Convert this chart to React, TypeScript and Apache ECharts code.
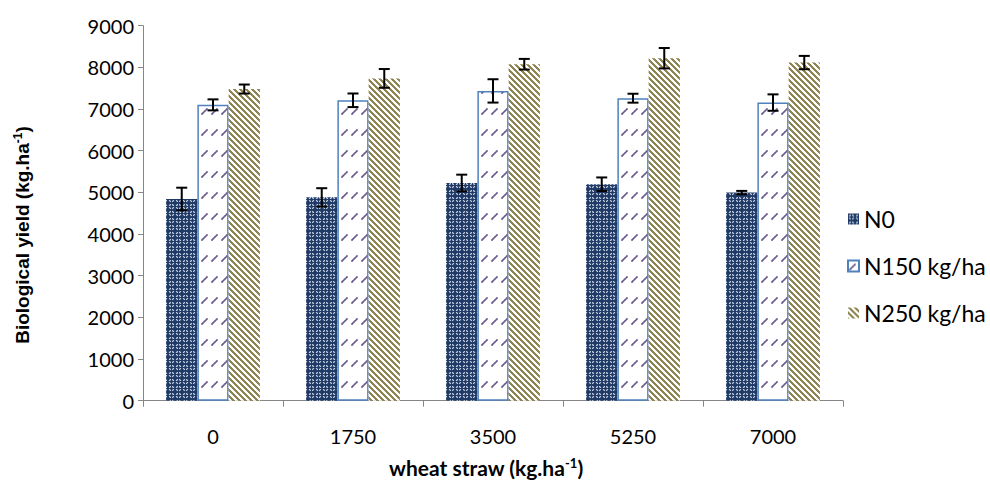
import React, { useEffect, useRef } from "react";
import * as echarts from "echarts";

const categories = ["0", "1750", "3500", "5250", "7000"];
const seriesNames = ["N0", "N150 kg/ha", "N250 kg/ha"];
const n0Values = [4840, 4880, 5225, 5195, 4995];
const n150Values = [7100, 7210, 7435, 7260, 7155];
const n250Values = [7480, 7735, 8075, 8220, 8115];
const n0Errors = [272, 220, 200, 163, 40];
const n150Errors = [132, 163, 280, 107, 197];
const n250Errors = [108, 225, 128, 245, 160];

function makeTile(w: number, h: number, draw: (ctx: CanvasRenderingContext2D) => void) {
  const c = document.createElement("canvas");
  c.width = w;
  c.height = h;
  const ctx = c.getContext("2d")!;
  draw(ctx);
  return c;
}

export default function App() {
  const ref = useRef<HTMLDivElement>(null);
  useEffect(() => {
    if (!ref.current) return;
    const chart = echarts.init(ref.current, null, { renderer: "svg" });

    const navy = "#1f3a66";
    const n0Tile = makeTile(7, 7, (ctx) => {
      ctx.fillStyle = navy;
      ctx.fillRect(0, 0, 7, 7);
      ctx.strokeStyle = "#c9d2e2";
      ctx.lineWidth = 1.2;
      ctx.beginPath();
      ctx.arc(3.5, 3.5, 2.2, 0, Math.PI * 2);
      ctx.stroke();
      ctx.fillStyle = navy;
      ctx.fillRect(3, 0, 1, 7);
      ctx.fillRect(0, 3, 7, 1);
    });
    const n150Tile = makeTile(10, 21, (ctx) => {
      ctx.fillStyle = "#ffffff";
      ctx.fillRect(0, 0, 10, 21);
      ctx.strokeStyle = "#6e5f90";
      ctx.lineWidth = 1.8;
      ctx.lineCap = "round";
      ctx.setLineDash([1.8, 1.1]);
      ctx.beginPath();
      ctx.moveTo(2, 9);
      ctx.lineTo(7, 4);
      ctx.stroke();
    });
    const n250Tile = makeTile(6, 6, (ctx) => {
      ctx.fillStyle = "#ffffff";
      ctx.fillRect(0, 0, 6, 6);
      ctx.fillStyle = "#8f8552";
      for (let y = 0; y < 6; y++) {
        for (let x = 0; x < 6; x++) {
          const d = (((x - y) % 6) + 6) % 6;
          if (d <= 2) ctx.fillRect(x, y, 1, 1);
        }
      }
    });

    const fills = [
      { image: n0Tile, repeat: "repeat" },
      { image: n150Tile, repeat: "repeat" },
      { image: n250Tile, repeat: "repeat" },
    ];
    const values = [n0Values, n150Values, n250Values];
    const errors = [n0Errors, n150Errors, n250Errors];
    const gapRatio = 0.33;

    const errData: number[][] = [];
    for (let s = 0; s < 3; s++) {
      for (let i = 0; i < categories.length; i++) {
        errData.push([i, values[s][i], errors[s][i], s]);
      }
    }

    const font = "Lato";

    const option: any = {
      animation: false,
      grid: { left: 143, right: 147, top: 25.7, bottom: 83.3 },
      legend: {
        orient: "vertical",
        left: 842,
        top: 202.5,
        itemWidth: 11,
        itemHeight: 11,
        itemGap: 24,
        icon: "rect",
        data: seriesNames,
        textStyle: { fontFamily: font, fontSize: 23, lineHeight: 23, color: "#000" },
      },
      xAxis: {
        type: "category",
        data: categories,
        axisLine: { lineStyle: { color: "#868686", width: 1 } },
        axisTick: { show: true, alignWithLabel: false, length: 6, lineStyle: { color: "#868686" } },
        axisLabel: { color: "#000", fontFamily: font, fontSize: 20, margin: 25 },
      },
      yAxis: {
        type: "value",
        min: 0,
        max: 9000,
        interval: 1000,
        splitLine: { show: false },
        axisLine: { show: true, lineStyle: { color: "#868686", width: 1 } },
        axisTick: { show: true, length: 5, lineStyle: { color: "#868686" } },
        axisLabel: {
          color: "#000",
          fontFamily: font,
          fontSize: 20,
          margin: 9,
          formatter: (v: number) => String(v),
        },
      },
      graphic: [
        {
          type: "text",
          x: 22,
          y: 235,
          rotation: Math.PI / 2,
          style: {
            text: "Biological yield (kg.ha{sup|-1})",
            font: 'bold 19px "Liberation Sans"',
            fill: "#000",
            align: "center",
            verticalAlign: "middle",
            rich: {
              sup: { font: 'bold 12px "Liberation Sans"', verticalAlign: "top", padding: [0, 0, 9, 0] },
            },
          },
        },
        {
          type: "text",
          x: 486,
          y: 467,
          style: {
            text: "wheat straw (kg.ha{sup|-1})",
            font: 'bold 21px "Lato"',
            fill: "#000",
            align: "center",
            verticalAlign: "middle",
            rich: {
              sup: { font: 'bold 13px "Lato"', verticalAlign: "top", padding: [0, 0, 9, 0] },
            },
          },
        },
      ],
      series: [
        ...seriesNames.map((name, s) => ({
          name,
          type: "bar",
          data: values[s],
          barGap: "0%",
          barCategoryGap: "33%",
          itemStyle: {
            color: fills[s],
            borderColor: s === 1 ? "#4f81bd" : "transparent",
            borderWidth: s === 1 ? 1.5 : 0,
          },
          emphasis: { disabled: true },
        })),
        {
          type: "custom",
          name: "err",
          data: errData,
          encode: { x: 0, y: 1 },
          z: 10,
          silent: true,
          renderItem: (params: any, api: any) => {
            const ci = api.value(0);
            const v = api.value(1);
            const e = api.value(2);
            const s = api.value(3);
            const band = api.size([1, 0])[0];
            const bw = (band * (1 - gapRatio)) / 3;
            const center = api.coord([ci, v]);
            const x = center[0] + (s - 1) * bw;
            const yTop = api.coord([ci, v + e])[1];
            const yBot = api.coord([ci, v - e])[1];
            const cap = 5.5;
            const st = { stroke: "#000", lineWidth: 2 };
            return {
              type: "group",
              children: [
                { type: "line", shape: { x1: x, y1: yTop, x2: x, y2: yBot }, style: st },
                { type: "line", shape: { x1: x - cap, y1: yTop, x2: x + cap, y2: yTop }, style: st },
                { type: "line", shape: { x1: x - cap, y1: yBot, x2: x + cap, y2: yBot }, style: st },
              ],
            };
          },
        },
      ],
    };
    chart.setOption(option);
    return () => chart.dispose();
  }, []);
  return <div ref={ref} style={{ width: 990, height: 484, position: "absolute", left: 0, top: 0 }} />;
}
